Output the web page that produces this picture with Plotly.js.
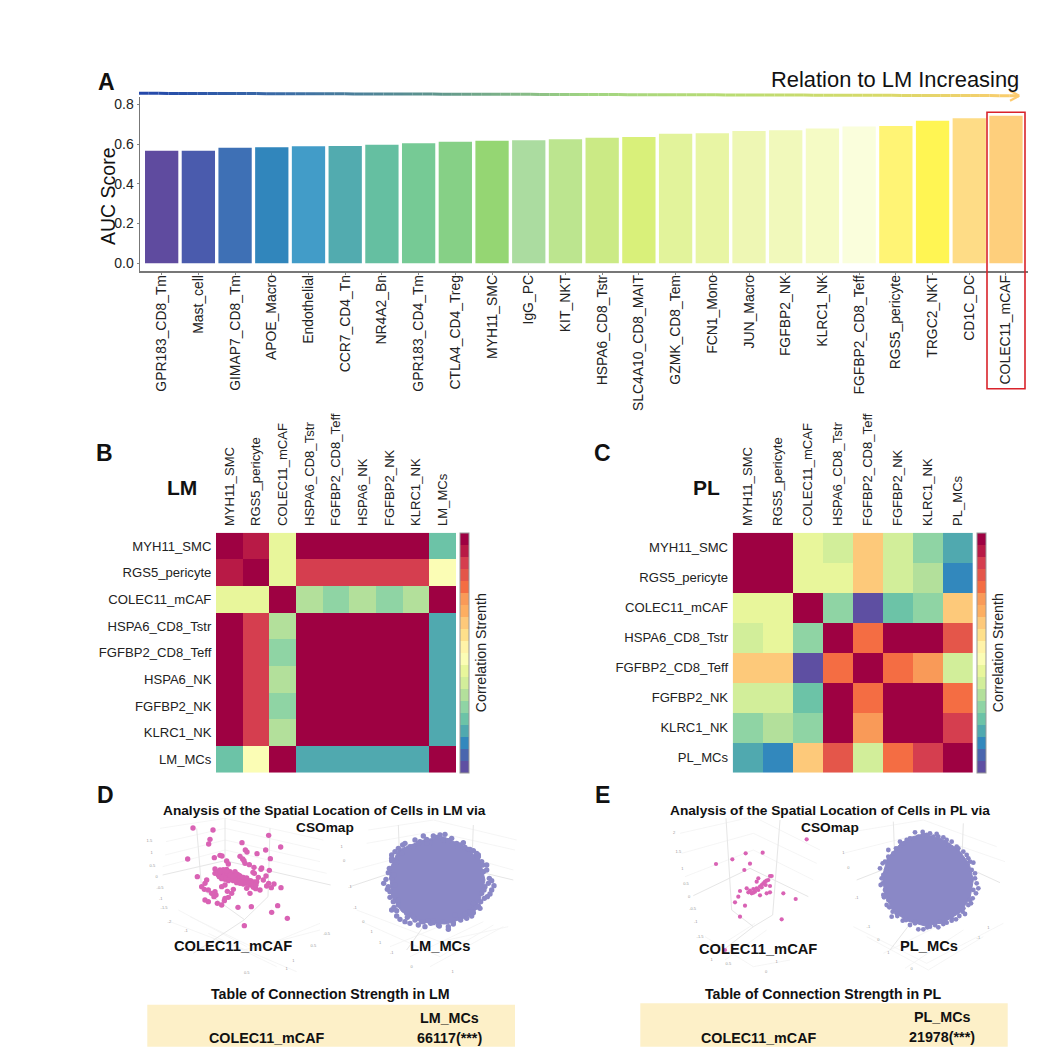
<!DOCTYPE html>
<html><head><meta charset="utf-8">
<script src="https://cdn.plot.ly/plotly-3.0.1.min.js"></script>
<style>html,body{margin:0;padding:0;background:#fff}</style></head>
<body><div id="chart" style="width:1058px;height:1060px"></div>
<script>
const barCategories=['GPR183_CD8_Tm','Mast_cell','GIMAP7_CD8_Tm','APOE_Macro','Endothelial','CCR7_CD4_Tn','NR4A2_Bn','GPR183_CD4_Tm','CTLA4_CD4_Treg','MYH11_SMC','IgG_PC','KIT_NKT','HSPA6_CD8_Tstr','SLC4A10_CD8_MAIT','GZMK_CD8_Tem','FCN1_Mono','JUN_Macro','FGFBP2_NK','KLRC1_NK','FGFBP2_CD8_Teff','RGS5_pericyte','TRGC2_NKT','CD1C_DC','COLEC11_mCAF'];
const aucScores=[0.567,0.567,0.582,0.584,0.589,0.590,0.597,0.604,0.612,0.617,0.619,0.624,0.632,0.636,0.652,0.654,0.666,0.669,0.679,0.688,0.691,0.718,0.730,0.743];
const barColors=['#5F4B9F','#4A5BAD','#3E70B5','#3186BC','#429CC8','#52ABAF','#65BFA1','#76CA95','#86D086','#95D673','#ABDCA0','#BCE58F','#CBEA85','#D9F07A','#E2F39B','#E8F5A4','#EEF7B4','#F1F9BB','#F5FBC5','#FAFEDC','#FFF475','#FFF553','#FEDC86','#FECF7C'];

const spectralBands=['#5E4FA2','#4A66AE','#3288BD','#50A9AF','#6CC3A7','#8FD4A4','#B3E09B','#D2EE9A','#E8F69B','#FBFDB5','#FFF3A8','#FEE08B','#FDC97A','#FDAE61','#F99A58','#F46D43','#E4564A','#D53E4F','#B81A46','#9E0142'];
const lmLabels=['MYH11_SMC','RGS5_pericyte','COLEC11_mCAF','HSPA6_CD8_Tstr','FGFBP2_CD8_Teff','HSPA6_NK','FGFBP2_NK','KLRC1_NK','LM_MCs'];
const lmMatrix=[
[1,.92,.42,1,1,1,1,1,.22],
[.92,1,.42,.87,.87,.87,.87,.87,.47],
[.42,.42,1,.32,.27,.32,.27,.32,1],
[1,.87,.32,1,1,1,1,1,.17],
[1,.87,.27,1,1,1,1,1,.17],
[1,.87,.32,1,1,1,1,1,.17],
[1,.87,.27,1,1,1,1,1,.17],
[1,.87,.32,1,1,1,1,1,.17],
[.22,.47,1,.17,.17,.17,.17,.17,1]];
const plLabels=['MYH11_SMC','RGS5_pericyte','COLEC11_mCAF','HSPA6_CD8_Tstr','FGFBP2_CD8_Teff','FGFBP2_NK','KLRC1_NK','PL_MCs'];
const plMatrix=[
[1,1,.42,.37,.63,.37,.27,.17],
[1,1,.42,.42,.63,.37,.32,.12],
[.42,.42,1,.27,.02,.22,.27,.63],
[.37,.42,.27,1,.77,1,1,.82],
[.63,.63,.02,.77,1,.77,.72,.37],
[.37,.37,.22,1,.77,1,1,.77],
[.27,.32,.27,1,.72,1,1,.87],
[.17,.12,.63,.82,.37,.77,.87,1]];

const dPinkX=[309,369,360,356,456,536,572,293,527,466,471,501,390,396,373,450,458,462,541,410,415,465,478,492,515,513,538,493,489,322,350,345,335,343,375,380,390,400,410,420,435,445,385,395,405,415,425,435,445,455,465,475,485,495,405,415,430,440,450,460,470,480,490,500,505,520,528,536,552,573,544,530,395,405,430,412,425,375,378,365,355,372,405,415,345,355,382,403,395,480,497,444,484,563,545,592,463,510,470,440,455,425,395,375,383,392,402,412,422,432,442,452,462,472,482,492,388,398,408,418,428,438,448,458,468,478,488,498,420,430,440,450,460,470,410,400,390];
const dPinkY=[114,120,148,162,158,136,171,207,180,180,186,191,196,198,203,199,207,212,206,213,222,220,224,232,234,238,241,250,247,260,270,280,290,298,237,245,240,240,238,245,245,255,255,250,255,258,262,265,265,268,272,275,278,285,268,272,272,278,280,282,280,285,292,275,262,270,258,280,282,293,293,288,290,285,298,304,310,305,315,310,300,320,325,322,330,335,340,332,345,310,296,352,350,347,367,385,407,300,295,262,272,252,266,250,248,246,248,250,254,256,260,262,266,270,272,276,260,262,264,266,268,270,272,276,276,280,282,284,256,258,252,258,262,264,244,240,244];
const dBlobOutlineX=[1000,1060,1125,1170,1185,1170,1135,1070,990,935,905,898,925];
const dBlobOutlineY=[150,140,170,210,270,330,380,402,395,365,320,240,180];
const dBlobX=[1065,1040,1020,990,1085,1060,1100,1125,1150,1175,1160,1190,1198,1212,1205,1192,1172,1165,1170,1150,1145,1130,1112,1075,1075,1045,1022,1005,995,975,945,960,920,905,910,925,900,895,881,905,898,905,905,925,938,960,985,1180,1185,1175,1150,1130,1095,1060,1030,1000,970,950,925,915,912,920,935,970,1010,1105,1135,1165,1182,1140,1010,1030,1075,1110,1140,1165,1190,1195,1183,1158,1125,1090,1048,1015,985,952,930,912,900,888,895,915,945,975,1000,1050,1120,1160,1178,1205,1200,1150,1090,1030,960,920,892,905];
const dBlobY=[133,142,158,155,145,150,160,172,182,215,195,225,265,287,300,320,335,348,355,358,378,385,390,410,418,405,400,410,395,390,395,375,362,360,335,345,305,290,280,265,235,212,195,175,165,170,160,245,290,310,340,370,375,395,392,395,380,370,330,285,255,215,190,170,160,170,178,195,300,365,148,138,152,165,178,200,240,280,325,352,372,398,408,392,405,382,388,352,322,268,248,185,160,150,138,135,158,190,225,272,312,368,402,398,400,378,298,205];
const eBlobOutlineX=[1000,1055,1105,1138,1150,1140,1110,1060,1005,950,908,885,877,892,930,962];
const eBlobOutlineY=[132,146,178,222,270,325,368,398,408,392,362,315,260,205,162,142];
const eBlobX=[975,998,1020,1060,1085,1120,1135,1150,1145,1155,1165,1150,1148,1135,1118,1108,1085,1060,1035,1000,985,960,938,905,908,890,880,875,880,870,885,895,918,935,960,1000,1030,1075,1105,1140,1160,1140,1120,1085,1050,1020,975,945,920,895,885,878,890,910,940,985,1010,1045,1070,1100,1130,1155,1158,1143,1125,1098,1070,1045,1012,975,948,922,898,882,872,878,895,930,950,1040];
const eBlobY=[127,126,130,142,155,185,205,218,240,265,295,300,325,345,365,378,392,402,405,418,418,405,392,380,365,345,315,265,255,235,215,200,175,165,145,135,140,165,175,215,280,330,355,385,395,410,395,385,370,330,300,280,240,190,160,140,135,140,150,170,195,250,310,340,372,388,398,412,412,400,390,378,352,322,285,220,180,155,150,132];
const ePinkX=[650,467,518,378,427,480,463,540,545,530,525,520,515,505,500,535,527,510,500,490,480,475,485,495,505,515,540,470,450,580,617,445,435,465,510,530,540,490,450,575,405];
const ePinkY=[148,190,188,222,208,221,240,258,258,272,275,280,285,265,275,270,285,290,295,297,302,307,310,305,300,292,288,295,303,310,327,320,337,347,316,310,307,308,380,388,480];

const dBrightX=[218,405,722,null,320,335,null,540,534,null,335,462,null,534,462,310,null,405,405,null,780,930,null,925,930,null,1150,1145,null,1270,1145,null,930,1050,null,1145,1050,950];
const dBrightY=[255,212,285,null,115,297,null,115,320,null,297,388,null,320,390,490,null,85,212,null,290,240,null,105,240,null,105,240,null,270,240,null,240,340,null,240,340,480];
const dFaintX=[210,405,700,null,228,405,690,null,225,405,690,null,218,405,710,null,240,462,690,null,265,470,null,300,505,null,355,560,null,420,620,null,470,690,null,835,1030,1280,null,830,1030,1275,null,790,1035,1270,null,800,1050,1255,null,815,1050,1210,null,900,1120,null,960,1180,null,1020,1240];
const dFaintY=[115,85,150,null,155,115,180,null,195,150,215,null,230,180,250,null,395,480,420,null,360,470,null,380,480,null,430,530,null,460,545,null,490,400,null,120,90,150,null,160,125,180,null,240,175,240,null,360,455,410,null,395,500,405,null,470,380,null,500,395,null,530,410];
const eBrightX=[310,480,655,null,408,425,null,570,548,null,425,490,null,548,490,400,null,800,915,null,1115,1230,null,910,915,null,1120,1115,null,915,1015,null,1115,1015,900];
const eBrightY=[317,235,320,null,85,360,null,90,375,null,360,410,null,375,410,480,null,270,225,null,225,278,null,95,225,null,100,225,null,225,330,null,225,330,480];
const eFaintX=[270,490,690,null,275,490,680,null,285,490,670,null,345,490,600,null,370,495,null,405,530,null,760,1000,1220,null,760,1000,1245,null,790,1010,1240,null,830,1015,1180,null,880,1060,null,945,1120];
const eFaintY=[130,80,180,null,190,130,220,null,260,180,270,null,440,530,510,null,480,400,null,510,420,null,130,90,170,null,190,130,215,null,410,520,400,null,440,540,440,null,490,400,null,535,420];
const tinyLeftD=['1.5','1','0.5','0','-0.5','-1','-1.5','-2','-1','-0.5','0.5','1','1','0.5'];
const tinyLeftDX=[178,185,187,200,210,212,222,238,288,710,670,610,590,470];
const tinyLeftDY=[153,190,228,262,295,326,355,395,424,432,468,512,538,548];
const tinyRightD=['1','0','-1','-1','0','1','1','-1','0','1'];
const tinyRightDX=[755,762,780,795,820,845,870,905,965,1088];
const tinyRightDY=[170,212,290,355,395,425,458,490,532,545];
const tinyLeftE=['2','1.5','1','0.5','0','-0.5','-1','-1.5','1','0.5','1','0'];
const tinyLeftEX=[252,265,277,288,297,308,317,330,365,415,560,528];
const tinyLeftEY=[130,187,237,283,322,358,395,440,510,522,515,545];
const tinyRightE=['1','0','-1','-1','0','1','1','-1','0'];
const tinyRightEX=[760,775,800,835,865,895,1195,1165,965];
const tinyRightEY=[188,235,325,412,450,490,415,445,538];

const W=1058,H=1060;
const dx=v=>v/W, dy=v=>1-v/H;
const font='"Liberation Sans",Arial,sans-serif';
const bandScale=[];
spectralBands.forEach((c,i)=>{bandScale.push([i/20,c]);bandScale.push([(i+1)/20,c]);});

function heat(labels,matrix,xa,ya,cbx){
  return {type:'heatmap',x:labels,y:labels,z:matrix,xaxis:xa,yaxis:ya,zmin:0,zmax:1,colorscale:bandScale,hoverinfo:'skip',
    colorbar:{x:dx(cbx),xanchor:'left',xpad:0,ypad:0,y:dy(652.7),yanchor:'middle',lenmode:'pixels',len:240,thicknessmode:'pixels',thickness:8.7,
      outlinecolor:'#999',outlinewidth:1,ticks:'',showticklabels:false,
      title:{text:'Correlation Strenth',side:'right',font:{size:14.2,family:font,color:'#222'}}}};
}
function pts(x,y,xa,ya,size,color){return {type:'scatter',mode:'markers',x,y,xaxis:xa,yaxis:ya,hoverinfo:'skip',marker:{size,color,line:{width:0}}};}
function lines(x,y,xa,ya,color,width){return {type:'scatter',mode:'lines',x,y,xaxis:xa,yaxis:ya,hoverinfo:'skip',line:{color,width},connectgaps:false};}
function fillArea(x,y,xa,ya,color){return {type:'scatter',mode:'lines',x:x.concat(x[0]),y:y.concat(y[0]),xaxis:xa,yaxis:ya,fill:'toself',fillcolor:color,hoverinfo:'skip',line:{color,width:1}};}
function tiny(t,x,y,xa,ya){return {type:'scatter',mode:'text',text:t,x,y,xaxis:xa,yaxis:ya,hoverinfo:'skip',textfont:{size:4,color:'#999',family:font}};}

const traces=[
 {type:'bar',x:barCategories,y:aucScores,xaxis:'x',yaxis:'y',marker:{color:barColors,line:{width:0}},hoverinfo:'skip'},
 heat(lmLabels,lmMatrix,'x2','y2',460),
 heat(plLabels,plMatrix,'x3','y3',977),
 lines(dFaintX,dFaintY,'x4','y4','#F3F3F3',0.8),
 lines(dBrightX,dBrightY,'x4','y4','#E6E6E6',1),
 tiny(tinyLeftD,tinyLeftDX,tinyLeftDY,'x4','y4'),
 tiny(tinyRightD,tinyRightDX,tinyRightDY,'x4','y4'),
 pts(dPinkX,dPinkY,'x4','y4',5.4,'#D962B4'),
 fillArea(dBlobOutlineX,dBlobOutlineY,'x4','y4','#8A88C6'),
 pts(dBlobX,dBlobY,'x4','y4',5.4,'#8A88C6'),
 lines(eFaintX,eFaintY,'x5','y5','#F3F3F3',0.8),
 lines(eBrightX,eBrightY,'x5','y5','#E6E6E6',1),
 tiny(tinyLeftE,tinyLeftEX,tinyLeftEY,'x5','y5'),
 tiny(tinyRightE,tinyRightEX,tinyRightEY,'x5','y5'),
 pts(ePinkX,ePinkY,'x5','y5',4.2,'#D962B4'),
 fillArea(eBlobOutlineX,eBlobOutlineY,'x5','y5','#8A88C6'),
 pts(eBlobX,eBlobY,'x5','y5',4.8,'#8A88C6')
];

function ann(text,x,y,size,bold,anchor,color,angle){
  return {text:bold?'<b>'+text+'</b>':text,x:dx(x),y:dy(y),xref:'paper',yref:'paper',xanchor:anchor||'center',yanchor:'middle',showarrow:false,textangle:angle||0,
    font:{size,family:font,color:color||'#111'}};
}
const annotations=[
 ann('A',106,82,23,true),ann('B',104,453,23,true),ann('C',602,453,23,true),ann('D',105,795,23,true),ann('E',602,795,23,true),
 ann('Relation to LM Increasing',1021,80,21.9,false,'right'),
 ann('AUC Score',108,196,19.5,false,'center','#111',-90),
 ann('LM',182,487,21,true),ann('PL',706,487,21,true),
 ann('Analysis of the Spatial Location of Cells in LM via',324.7,810.7,13.7,true),ann('CSOmap',324.7,827.7,13.7,true),
 ann('Analysis of the Spatial Location of Cells in PL via',830,810.7,13.7,true),ann('CSOmap',830,827.7,13.7,true),
 ann('COLEC11_mCAF',233,945.7,14.7,true),ann('LM_MCs',440,945.7,14.7,true),
 ann('COLEC11_mCAF',757.7,949,14.7,true),ann('PL_MCs',929,945.7,14.7,true),
 ann('Table of Connection Strength in LM',330.7,994,14.2,true),ann('Table of Connection Strength in PL',823,994,14.2,true),
 ann('LM_MCs',449,1017.7,14.3,true),ann('66117(***)',449,1038,14.3,true),ann('COLEC11_mCAF',266,1038,14.3,true),
 ann('PL_MCs',942,1016.7,14.3,true),ann('21978(***)',942,1037,14.3,true),ann('COLEC11_mCAF',758,1038,14.3,true)
];

const gradientStops=[[36,72,170],[60,110,165],[95,150,140],[160,212,130],[185,220,115],[215,218,105],[253,203,110]];
const shapes=[];
const segs=90,x0=139,x1=1019,yA=93.3,yB=95.7;
for(let i=0;i<segs;i++){
  const t=i/segs*(gradientStops.length-1),k=Math.min(Math.floor(t),gradientStops.length-2),f=t-k;
  const c=gradientStops[k].map((v,j)=>Math.round(v+(gradientStops[k+1][j]-v)*f));
  shapes.push({type:'line',xref:'paper',yref:'paper',x0:dx(x0+(x1-x0)*i/segs),x1:dx(x0+(x1-x0)*(i+1)/segs),
    y0:dy(yA+(yB-yA)*i/segs),y1:dy(yA+(yB-yA)*(i+1)/segs),line:{color:`rgb(${c})`,width:3}});
}
[[1010,90.7],[1010,100.7]].forEach(p=>shapes.push({type:'line',xref:'paper',yref:'paper',x0:dx(p[0]),y0:dy(p[1]),x1:dx(1019.3),y1:dy(95.7),line:{color:'#FDCB6E',width:2.2}}));
shapes.push({type:'rect',xref:'paper',yref:'paper',x0:dx(987),x1:dx(1025),y0:dy(112.3),y1:dy(388.7),line:{color:'#D9232B',width:1.6},fillcolor:'rgba(0,0,0,0)',layer:'above'});
[[147.3,515,1004.7,1046.7],[640.3,1007.7,1003.3,1046.7]].forEach(r=>shapes.push({type:'rect',xref:'paper',yref:'paper',x0:dx(r[0]),x1:dx(r[1]),y0:dy(r[2]),y1:dy(r[3]),fillcolor:'#FDF0C8',line:{width:0},layer:'below'}));

const hidden={visible:false,showgrid:false,zeroline:false};
const heatTick={size:13.1,family:font,color:'#222'};
const layout={
 width:W,height:H,margin:{l:0,r:0,t:0,b:0,pad:0},paper_bgcolor:'#fff',plot_bgcolor:'rgba(0,0,0,0)',showlegend:false,bargap:0.093,font:{family:font},
 annotations,shapes,
 xaxis:{domain:[dx(140),dx(1028)],range:[-0.59,23.6],type:'category',tickangle:-90,showline:true,linecolor:'#777',linewidth:1.5,ticks:'outside',ticklen:2,tickcolor:'#888',ticklabelstandoff:-5,tickfont:{size:13.9,family:font,color:'#222'},showgrid:false,zeroline:false,anchor:'y',automargin:false},
 yaxis:{domain:[dy(271),dy(97)],range:[-0.039,0.837],tickvals:[0,0.2,0.4,0.6,0.8],tickformat:'.1f',showline:true,linecolor:'#777',linewidth:1.5,ticks:'outside',ticklen:2,tickcolor:'#888',tickfont:{size:14,family:font,color:'#222'},showgrid:false,zeroline:false,anchor:'x',automargin:false},
 xaxis2:{domain:[dx(216),dx(456)],side:'top',type:'category',tickangle:-90,ticklen:3,tickcolor:'rgba(0,0,0,0)',ticks:'outside',tickfont:heatTick,showgrid:false,zeroline:false,anchor:'y2',automargin:false},
 yaxis2:{domain:[dy(772.7),dy(532.7)],type:'category',autorange:'reversed',ticklen:1,tickcolor:'rgba(0,0,0,0)',ticks:'outside',tickfont:heatTick,showgrid:false,zeroline:false,anchor:'x2',automargin:false},
 xaxis3:{domain:[dx(732.7),dx(973)],side:'top',type:'category',tickangle:-90,ticklen:3,tickcolor:'rgba(0,0,0,0)',ticks:'outside',tickfont:heatTick,showgrid:false,zeroline:false,anchor:'y3',automargin:false},
 yaxis3:{domain:[dy(772.7),dy(532.7)],type:'category',autorange:'reversed',ticklen:1,tickcolor:'rgba(0,0,0,0)',ticks:'outside',tickfont:heatTick,showgrid:false,zeroline:false,anchor:'x3',automargin:false},
 xaxis4:Object.assign({domain:[dx(90),dx(530)],range:[0,1320],anchor:'y4'},hidden),
 yaxis4:Object.assign({domain:[dy(1060),dy(790)],range:[810,0],anchor:'x4'},hidden),
 xaxis5:Object.assign({domain:[dx(590),dx(1030)],range:[0,1320],anchor:'y5'},hidden),
 yaxis5:Object.assign({domain:[dy(1060),dy(790)],range:[810,0],anchor:'x5'},hidden)
};
Plotly.newPlot('chart',traces,layout,{displayModeBar:false,staticPlot:true,responsive:false});
</script></body></html>
